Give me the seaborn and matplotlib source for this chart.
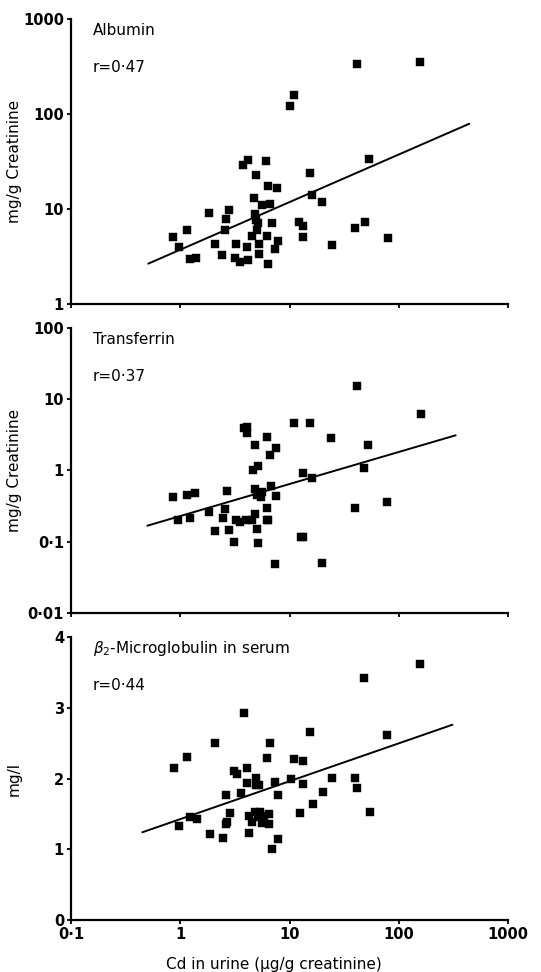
import numpy as np
import pandas as pd
import matplotlib
matplotlib.use("Agg")
import matplotlib.pyplot as plt
import seaborn as sns

# Albumin (mg/g creatinine) vs Cd in urine
alb_cd = [0.86, 0.98, 1.16, 1.22, 1.39, 1.85, 2.09, 2.42, 2.56, 2.65, 2.79, 3.14,
          3.27, 3.51, 3.79, 4.13, 4.1, 4.13, 4.49, 4.69, 4.82, 4.96, 4.9, 5.0,
          5.1, 5.25, 5.3, 5.63, 6.12, 6.2, 6.3, 6.38, 6.65, 6.89, 7.44, 7.76,
          7.87, 10.1, 11.0, 12.3, 13.4, 13.3, 15.4, 16.1, 19.9, 24.6, 40.0, 41.3,
          49.2, 53.5, 79.4, 158]
alb_val = [5.07, 4.0, 6.05, 2.98, 3.05, 9.08, 4.28, 3.28, 6.05, 7.9, 9.84, 3.02,
           4.28, 2.79, 28.8, 33.0, 4.0, 2.93, 5.15, 13.1, 8.9, 22.6, 7.6, 6.05,
           7.1, 4.3, 3.4, 11.1, 31.8, 5.2, 17.3, 2.66, 11.4, 7.1, 3.8, 16.6,
           4.65, 122, 157, 7.3, 6.6, 5.07, 23.9, 14.2, 11.8, 4.2, 6.26, 336,
           7.3, 33.9, 4.99, 356]
alb_fit_x = [0.51, 443]
alb_fit_y = [2.66, 79]

# Transferrin (mg/g creatinine)
tf_cd = [0.86, 0.96, 1.15, 1.22, 1.36, 1.85, 2.06, 2.44, 2.56, 2.67, 2.79, 3.12,
         3.25, 3.5, 3.8, 4.05, 4.1, 3.99, 4.5, 4.59, 4.82, 4.82, 4.8, 5.0,
         5.13, 5.17, 5.0, 5.25, 5.5, 5.66, 6.2, 6.2, 6.2, 6.4, 6.6, 6.84,
         7.5, 7.6, 7.3, 10.9, 12.7, 13.3, 13.2, 15.3, 16.2, 19.8, 24.0, 39.9,
         41.3, 48.5, 52.8, 78.7, 159]
tf_val = [0.43, 0.204, 0.45, 0.218, 0.48, 0.26, 0.14, 0.218, 0.29, 0.51, 0.144, 0.098,
          0.2, 0.19, 3.9, 4.1, 3.36, 0.2, 0.2, 1.03, 2.28, 0.55, 0.248, 0.15,
          1.15, 0.096, 0.46, 0.49, 0.43, 0.5, 0.3, 2.92, 0.2, 0.2, 1.65, 0.6,
          0.44, 2.07, 0.049, 4.6, 0.117, 0.117, 0.92, 4.6, 0.785, 0.05, 2.83, 0.294,
          15.5, 1.1, 2.28, 0.36, 6.2]
tf_fit_x = [0.50, 332]
tf_fit_y = [0.168, 3.12]

# beta2-microglobulin in serum (mg/l)
b2m_cd = [0.875, 0.98, 1.16, 1.22, 1.41, 1.89, 2.09, 2.44, 2.62, 2.62, 2.69, 2.83,
          3.12, 3.3, 3.59, 3.82, 4.1, 4.12, 4.24, 4.3, 4.55, 4.8, 4.9, 4.98,
          5.15, 5.3, 5.37, 5.6, 5.8, 6.2, 6.43, 6.43, 6.66, 6.95, 7.4, 7.8,
          7.9, 10.3, 11.1, 13.2, 12.4, 13.3, 15.5, 16.3, 20.1, 24.5, 39.5, 41.4,
          48, 54.3, 78.4, 158]
b2m_val = [2.15, 1.33, 2.31, 1.45, 1.43, 1.21, 2.5, 1.16, 1.77, 1.36, 1.39, 1.51,
           2.10, 2.07, 1.79, 2.92, 2.15, 1.93, 1.47, 1.23, 1.38, 1.52, 2.01, 1.91,
           1.46, 1.91, 1.52, 1.37, 1.47, 2.29, 1.5, 1.36, 2.5, 1.0, 1.95, 1.77,
           1.14, 2.0, 2.27, 2.25, 1.51, 1.92, 2.66, 1.64, 1.81, 2.01, 2.01, 1.87,
           3.42, 1.52, 2.61, 3.62]
b2m_fit_x = [0.45, 310]
b2m_fit_y = [1.24, 2.76]

x_ticks = [0.1, 1, 10, 100, 1000]
x_ticklabels = ["0·1", "1", "10", "100", "1000"]

panels = [
    dict(x=alb_cd, y=alb_val, fx=alb_fit_x, fy=alb_fit_y, log=True,
         ylim=(1, 1000), yticks=[1, 10, 100, 1000],
         ylabels=["1", "10", "100", "1000"],
         title="Albumin", r="r=0·47", ylabel="mg/g Creatinine"),
    dict(x=tf_cd, y=tf_val, fx=tf_fit_x, fy=tf_fit_y, log=True,
         ylim=(0.01, 100), yticks=[0.01, 0.1, 1, 10, 100],
         ylabels=["0·01", "0·1", "1", "10", "100"],
         title="Transferrin", r="r=0·37", ylabel="mg/g Creatinine"),
    dict(x=b2m_cd, y=b2m_val, fx=b2m_fit_x, fy=b2m_fit_y, log=False,
         ylim=(0, 4), yticks=[0, 1, 2, 3, 4],
         ylabels=["0", "1", "2", "3", "4"],
         title=r"$\beta_2$-Microglobulin in serum", r="r=0·44", ylabel="mg/l"),
]

sns.set_style("ticks")
plt.rcParams["font.family"] = ["DejaVu Sans"]
plt.rcParams["mathtext.fontset"] = "dejavusans"
plt.rcParams["text.color"] = "black"
plt.rcParams["axes.labelcolor"] = "black"

fig = plt.figure(figsize=(5.41, 9.72), dpi=100)
W, H = 541, 972
ax_left, ax_right = 71, 508
tops = [19, 328, 637]
bottoms = [304, 613, 920]

for i, p in enumerate(panels):
    ax = fig.add_axes([ax_left / W, 1 - bottoms[i] / H,
                       (ax_right - ax_left) / W, (bottoms[i] - tops[i]) / H])
    df = pd.DataFrame({"cd": p["x"], "val": p["y"]})
    sns.scatterplot(data=df, x="cd", y="val", marker="s", s=34, color="black",
                    edgecolor="black", linewidth=0.3, ax=ax, zorder=3)
    fit = pd.DataFrame({"cd": p["fx"], "val": p["fy"]})
    sns.lineplot(data=fit, x="cd", y="val", color="black", lw=1.4, ax=ax)

    ax.set_xscale("log")
    if p["log"]:
        ax.set_yscale("log")
    ax.set_xlim(0.1, 1000)
    ax.set_ylim(*p["ylim"])
    ax.set_xticks(x_ticks)
    ax.set_yticks(p["yticks"])
    ax.set_yticklabels(p["ylabels"], fontweight="bold", fontsize=10.5)
    if i == 2:
        ax.set_xticklabels(x_ticklabels, fontweight="bold", fontsize=10.5)
        ax.set_xlabel("Cd in urine (μg/g creatinine)", fontsize=11)
        ax.xaxis.set_label_coords(0.465, -0.13)
    else:
        ax.set_xticklabels([])
        ax.set_xlabel("")
    ax.minorticks_off()
    ax.tick_params(length=3, width=1.3, pad=2, colors="black")
    ax.set_ylabel(p["ylabel"], fontsize=11)
    ax.yaxis.set_label_coords(-0.112, 0.5)
    for s in ["left", "bottom"]:
        ax.spines[s].set_linewidth(1.6)
        ax.spines[s].set_color("black")
    sns.despine(ax=ax)

    ax.text(0.05, 0.96, p["title"], transform=ax.transAxes, fontsize=11,
            va="center", ha="left")
    ax.text(0.05, 0.83, p["r"], transform=ax.transAxes, fontsize=11,
            va="center", ha="left")

fig.savefig("out.png", dpi=100)
